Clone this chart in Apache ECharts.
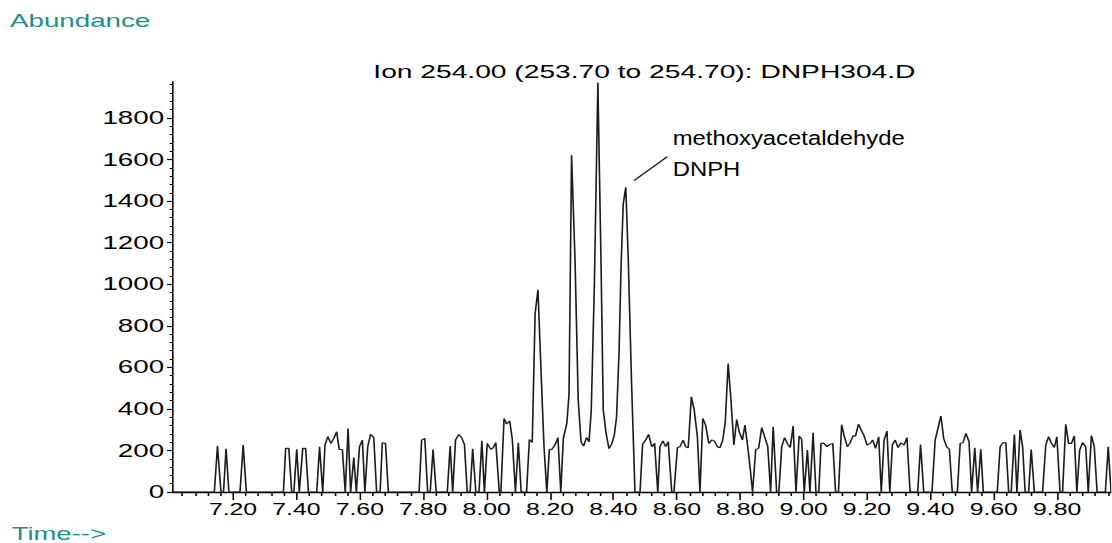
<!DOCTYPE html>
<html>
<head>
<meta charset="utf-8">
<script src="https://cdn.jsdelivr.net/npm/echarts@6/dist/echarts.min.js"></script>
<style>
html,body{margin:0;padding:0;background:#fff;overflow:hidden;width:1112px;height:543px;}
#chart{height:543px;transform-origin:0 0;}
</style>
</head>
<body>
<div id="chart"></div>
<script>
// ---- data (retention time in minutes, abundance counts) ----
const times = [
7.010,7.141,7.151,7.162,7.170,7.178,7.187,7.222,7.232,7.242,
7.359,7.366,7.376,7.385,7.392,7.401,7.409,7.420,7.429,7.438,
7.464,7.473,7.483,7.490,7.499,7.509,7.518,7.527,7.535,7.545,
7.554,7.563,7.571,7.581,7.589,7.599,7.608,7.616,7.625,7.634,
7.644,7.653,7.664,7.671,7.681,7.690,7.787,7.795,7.805,7.814,
7.822,7.831,7.841,7.876,7.885,7.893,7.902,7.912,7.921,7.930,
7.939,7.948,7.956,7.966,7.976,7.985,7.993,8.002,8.013,8.021,
8.029,8.040,8.045,8.055,8.063,8.073,8.081,8.091,8.100,8.109,
8.126,8.135,8.144,8.153,8.162,8.172,8.181,8.190,8.198,8.206,
8.216,8.225,8.234,8.242,8.253,8.260,8.268,8.279,8.289,8.298,
8.306,8.315,8.323,8.330,8.340,8.351,8.361,8.368,8.377,8.386,
8.395,8.403,8.410,8.418,8.424,8.431,8.439,8.447,8.457,8.468,
8.484,8.492,8.502,8.511,8.521,8.530,8.540,8.547,8.556,8.565,
8.573,8.584,8.591,8.602,8.610,8.620,8.628,8.636,8.646,8.655,
8.665,8.673,8.682,8.691,8.701,8.710,8.718,8.728,8.736,8.745,
8.753,8.762,8.771,8.780,8.789,8.797,8.807,8.815,8.825,8.833,
8.839,8.849,8.858,8.868,8.877,8.887,8.896,8.904,8.915,8.922,
8.931,8.940,8.950,8.958,8.967,8.976,8.986,8.994,9.002,9.012,
9.020,9.030,9.039,9.048,9.055,9.064,9.074,9.083,9.092,9.101,
9.110,9.120,9.128,9.138,9.146,9.156,9.164,9.173,9.182,9.191,
9.200,9.210,9.218,9.227,9.237,9.245,9.254,9.263,9.272,9.280,
9.289,9.298,9.307,9.317,9.326,9.336,9.360,9.369,9.379,9.405,
9.415,9.424,9.433,9.442,9.451,9.460,9.469,9.485,9.494,9.503,
9.512,9.522,9.530,9.540,9.549,9.559,9.567,9.611,9.620,9.629,
9.638,9.647,9.655,9.665,9.673,9.683,9.691,9.699,9.710,9.718,
9.728,9.754,9.764,9.773,9.781,9.791,9.799,9.809,9.817,9.827,
9.836,9.845,9.854,9.862,9.871,9.880,9.890,9.898,9.908,9.917,
9.926,9.952,9.961,9.970
];
const abundance = [
0,0,221,0,0,208,0,0,226,0,
0,210,210,0,0,206,0,210,210,0,
0,218,0,226,266,234,258,290,205,205,
0,306,0,166,0,218,250,0,218,278,
262,0,0,237,234,0,0,250,258,0,
0,205,0,0,221,0,250,277,262,229,
0,0,208,0,0,246,0,234,205,214,
238,0,0,354,327,341,254,0,237,0,
0,253,238,858,973,570,220,0,206,205,
227,262,0,258,330,470,1621,1114,442,241,
221,262,241,387,1000,1970,1100,394,282,209,
233,274,362,682,1081,1386,1466,1114,540,0,
0,230,250,277,218,234,0,218,246,218,
242,0,0,214,218,250,218,213,458,394,
266,0,354,322,234,250,246,218,213,250,
338,618,442,226,349,290,250,322,202,90,
0,205,210,310,266,218,0,314,0,0,
218,262,230,214,317,0,270,254,0,202,
0,285,0,0,234,234,218,229,234,0,
0,324,270,218,234,270,270,326,298,270,
226,234,250,210,266,0,250,293,0,226,
250,214,237,226,262,0,0,229,0,0,
250,306,366,258,218,206,0,0,234,237,
282,242,0,213,0,206,0,0,218,237,
238,0,0,277,0,298,218,0,0,205,
0,0,226,266,237,214,266,0,0,326,
234,234,270,0,202,238,218,0,272,218,
0,0,218,0
];
const xTickLabels = ['7.20','7.40','7.60','7.80','8.00','8.20','8.40','8.60','8.80','9.00','9.20','9.40','9.60','9.80'];
const yTickLabels = ['0','200','400','600','800','1000','1200','1400','1600','1800'];
const titleText = 'Ion 254.00 (253.70 to 254.70): DNPH304.D';
const yName = 'Abundance';
const xName = 'Time-->';
const annotLines = ['methoxyacetaldehyde', 'DNPH'];

// ---- layout ----
const S = 1.55;               // horizontal stretch of the original print
const W = 1112 / S;
const el = document.getElementById('chart');
el.style.width = W + 'px';
el.style.transform = 'scaleX(' + S + ')';

const X_MIN = 7.01, X_MAX = 9.972, Y_MIN = 0, Y_MAX = 1975;
const FONT = "'Liberation Sans', Arial, Helvetica, sans-serif";
const TEAL = '#1f8f89';

const xMajor = xTickLabels.map(Number);
const xMinor = [];
for (let k = 176; k <= 249; k++) { if (k % 5 !== 0) xMinor.push(Math.round(k * 4) / 100); }
const yMajor = yTickLabels.map(Number);
const yMinor = [];
for (let v = 40; v < Y_MAX; v += 40) { if (v % 200 !== 0) yMinor.push(v); }

const pts = times.map((t, i) => [t, abundance[i]]);

const chart = echarts.init(el, null, { renderer: 'svg', width: W, height: 543 });

const gridLeft = 172.8 / S;
const gridRight = W - 1111.7 / S;

chart.setOption({
  animation: false,
  backgroundColor: '#ffffff',
  grid: { left: gridLeft, right: gridRight, top: 81.6, bottom: 51, containLabel: false },
  xAxis: [
    {
      type: 'value', min: X_MIN, max: X_MAX, position: 'bottom',
      axisLine: { show: true, onZero: false, lineStyle: { color: '#000', width: 1.4 } },
      axisTick: { show: true, customValues: xMajor, length: 8, lineStyle: { color: '#000', width: 1 } },
      axisLabel: { show: true, customValues: xMajor, interval: 0, margin: 9, color: '#000',
        fontFamily: FONT, fontSize: 16, formatter: v => Number(v).toFixed(2) },
      splitLine: { show: false }
    },
    {
      type: 'value', min: X_MIN, max: X_MAX, position: 'bottom',
      axisLine: { show: false },
      axisTick: { show: true, customValues: xMinor, length: 4, lineStyle: { color: '#000', width: 1 } },
      axisLabel: { show: false },
      splitLine: { show: false }
    }
  ],
  yAxis: [
    {
      type: 'value', min: Y_MIN, max: Y_MAX, position: 'left',
      axisLine: { show: true, onZero: false, lineStyle: { color: '#000', width: 1 } },
      axisTick: { show: true, customValues: yMajor, length: 3.7, lineStyle: { color: '#000', width: 1.2 } },
      axisLabel: { show: true, customValues: yMajor, interval: 0, margin: 5.6, color: '#000',
        fontFamily: FONT, fontSize: 17.9, formatter: v => String(Math.round(Number(v))) },
      splitLine: { show: false }
    },
    {
      type: 'value', min: Y_MIN, max: Y_MAX, position: 'left',
      axisLine: { show: false },
      axisTick: { show: true, customValues: yMinor, length: 2, lineStyle: { color: '#000', width: 1 } },
      axisLabel: { show: false },
      splitLine: { show: false }
    }
  ],
  series: [{
    type: 'line',
    xAxisIndex: 0, yAxisIndex: 0,
    data: pts,
    showSymbol: false,
    symbol: 'none',
    lineStyle: { color: '#1c1c1c', width: 1.05 },
    silent: true
  }],
  graphic: [
    { type: 'text', x: 10 / S, y: 20.4,
      style: { text: yName, fill: TEAL, fontFamily: FONT, fontSize: 17.9,
        textAlign: 'left', textVerticalAlign: 'middle', align: 'left', verticalAlign: 'middle' } },
    { type: 'text', x: 11.7 / S, y: 533.7,
      style: { text: xName, fill: TEAL, fontFamily: FONT, fontSize: 17.7,
        textAlign: 'left', textVerticalAlign: 'middle', align: 'left', verticalAlign: 'middle' } },
    { type: 'text', x: 373.3 / S, y: 71.8,
      style: { text: titleText, fill: '#000', fontFamily: FONT, fontSize: 18.2,
        textAlign: 'left', textVerticalAlign: 'middle', align: 'left', verticalAlign: 'middle' } },
    { type: 'text', x: 672.7 / S, y: 137.5, scaleX: 1.136 / S,
      style: { text: annotLines[0], fill: '#000', fontFamily: FONT, fontSize: 21,
        textAlign: 'left', textVerticalAlign: 'middle', align: 'left', verticalAlign: 'middle' } },
    { type: 'text', x: 672.7 / S, y: 169.2, scaleX: 1.136 / S,
      style: { text: annotLines[1], fill: '#000', fontFamily: FONT, fontSize: 21,
        textAlign: 'left', textVerticalAlign: 'middle', align: 'left', verticalAlign: 'middle' } },
    { type: 'line', shape: { x1: 634 / S, y1: 180.7, x2: 667.3 / S, y2: 156.7 },
      style: { stroke: '#1c1c1c', lineWidth: 1.1 } }
  ]
});
</script>
</body>
</html>
